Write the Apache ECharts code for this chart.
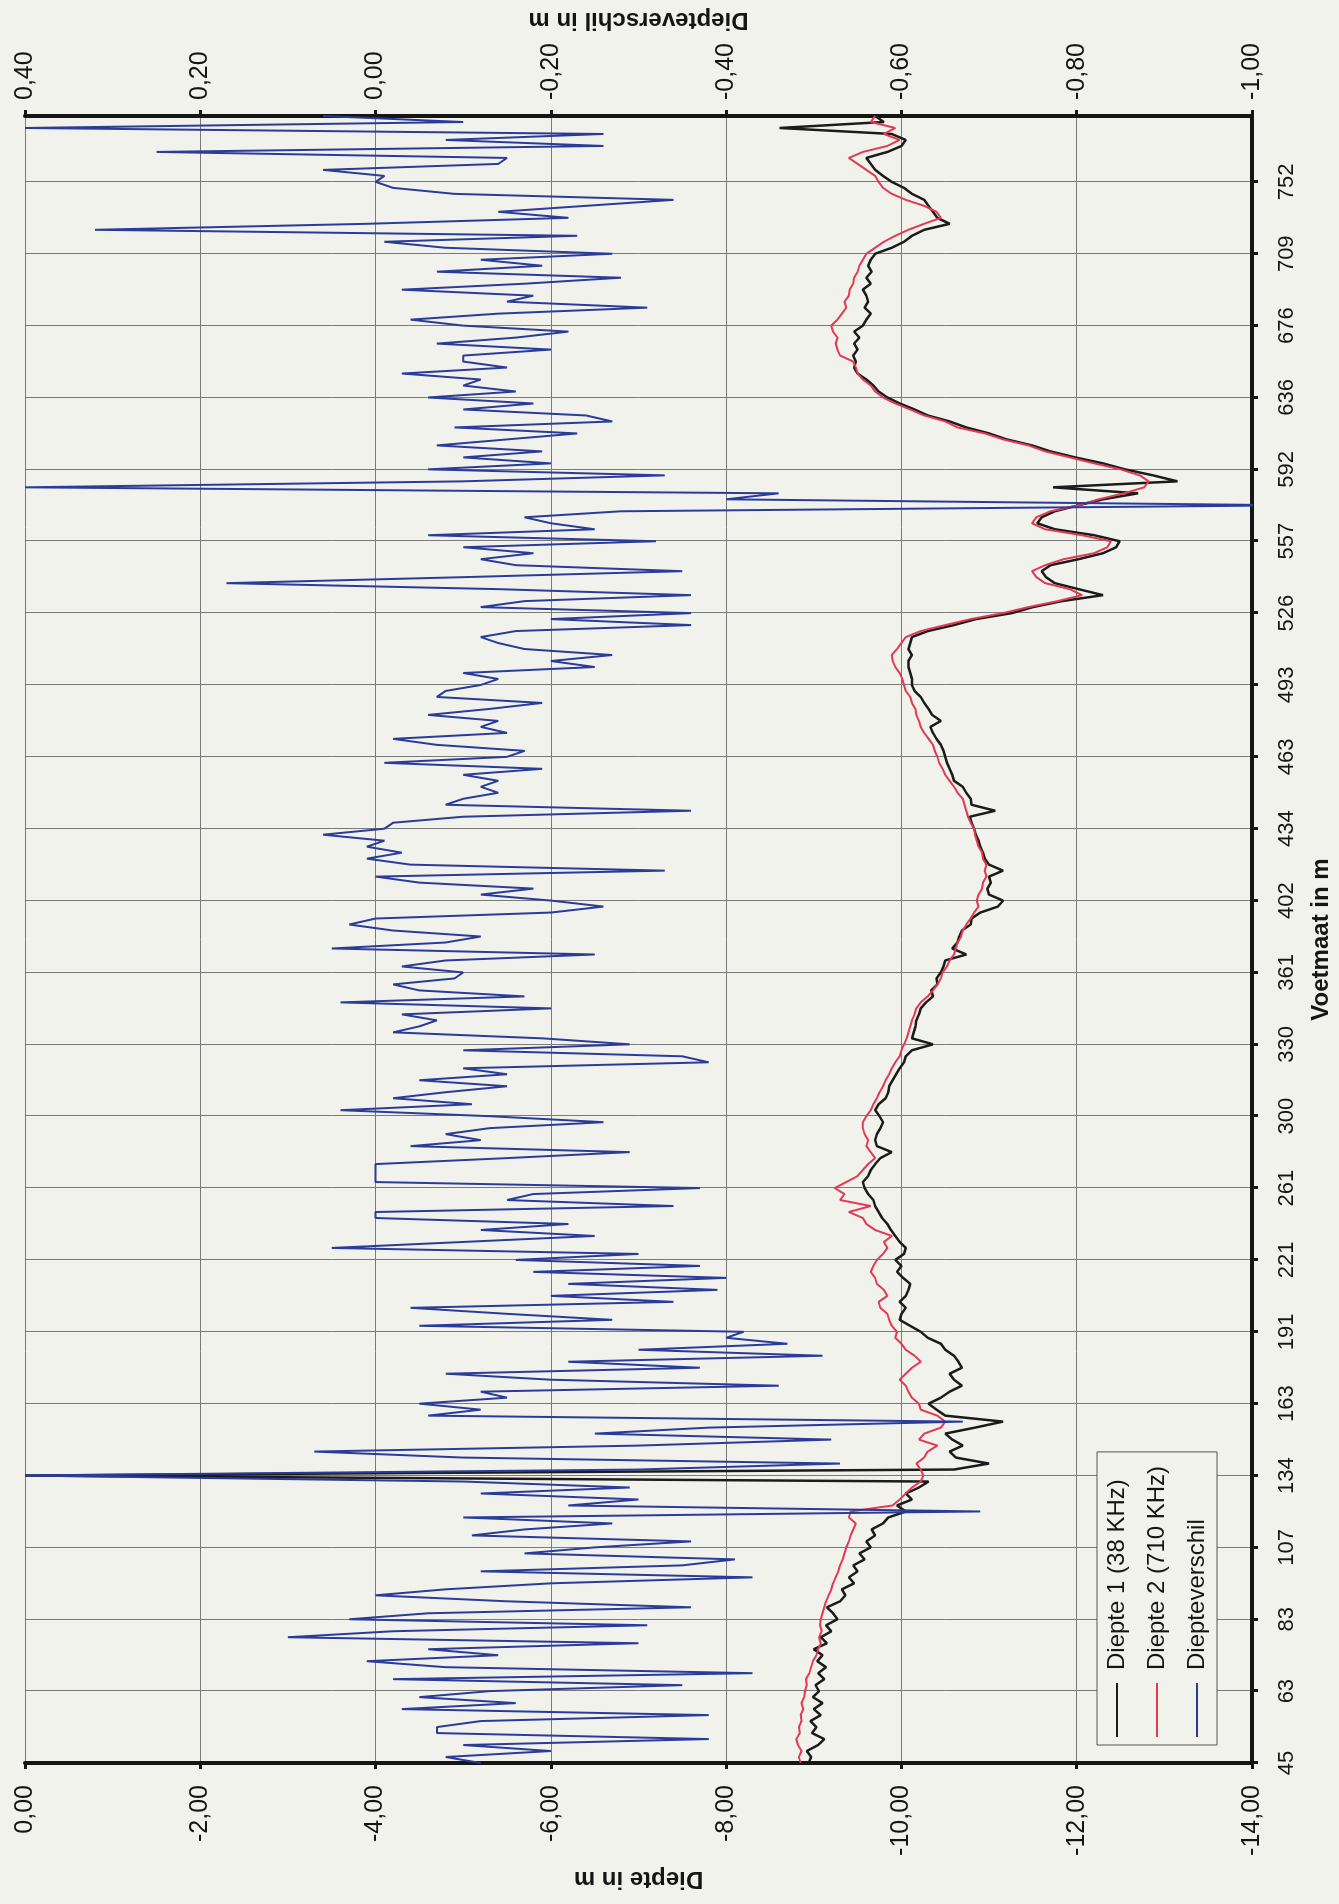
<!DOCTYPE html>
<html>
<head>
<meta charset="utf-8">
<script src="https://cdn.jsdelivr.net/npm/echarts@6/dist/echarts.min.js"></script>
<style>
  html, body { margin: 0; padding: 0; overflow: hidden; background: #f2f2ed; }
  body { width: 1339px; height: 1904px; position: relative; }
  /* chart is drawn landscape and turned a quarter to the left, like the scan */
  #chart {
    position: absolute; left: 0; top: 0;
    width: 1904px; height: 1339px;
    transform-origin: 0 0;
    transform: translateY(1904px) rotate(-90deg);
  }
</style>
</head>
<body>
<div id="chart"></div>
<script>
// voetmaat labels, one every 12 samples
var tickLabels = ['45', '63', '83', '107', '134', '163', '191', '221', '261', '300', '330', '361',
  '402', '434', '463', '493', '526', '557', '592', '636', '676', '709', '752'];
var perTick = 12;

// Diepte 1 (38 KHz), m
var diepte1 = [
  -8.94, -8.97, -8.92, -9.05, -9.12, -8.98, -9.03, -8.96, -9.08, -9.00, -9.10, -8.99,
  -9.06, -9.02, -9.12, -9.05, -9.14, -9.04, -9.10, -9.00, -9.15, -9.08, -9.20, -9.14,
  -9.27, -9.22, -9.15, -9.30, -9.36, -9.32, -9.46, -9.40, -9.50, -9.45, -9.58, -9.52,
  -9.65, -9.60, -9.70, -9.66, -9.79, -9.85, -10.05, -9.95, -10.12, -10.05, -10.20, -10.31,
  0.00, -10.60, -11.00, -10.62, -10.55, -10.70, -10.58, -10.50, -10.84, -11.16, -10.50, -10.40,
  -10.31, -10.45, -10.55, -10.69, -10.60, -10.55, -10.69, -10.65, -10.60, -10.50, -10.45, -10.30,
  -10.22, -10.10, -9.98, -10.00, -10.05, -9.98, -10.05, -10.08, -10.10, -10.02, -9.95, -10.00,
  -9.93, -10.03, -10.05, -9.98, -9.93, -9.88, -9.84, -9.78, -9.74, -9.70, -9.68, -9.62,
  -9.58, -9.56, -9.62, -9.65, -9.70, -9.76, -9.89, -9.72, -9.70, -9.72, -9.76, -9.79,
  -9.75, -9.70, -9.74, -9.82, -9.85, -9.86, -9.90, -9.94, -9.98, -10.03, -10.05, -10.12,
  -10.36, -10.12, -10.14, -10.16, -10.17, -10.20, -10.22, -10.28, -10.36, -10.34, -10.41, -10.40,
  -10.45, -10.48, -10.50, -10.74, -10.58, -10.64, -10.66, -10.69, -10.79, -10.80, -10.90, -11.10,
  -11.16, -11.00, -10.98, -11.02, -11.00, -11.16, -11.00, -10.95, -10.93, -10.90, -10.88, -10.85,
  -10.83, -10.80, -10.78, -11.07, -10.80, -10.79, -10.74, -10.70, -10.60, -10.58, -10.55, -10.52,
  -10.50, -10.48, -10.45, -10.40, -10.36, -10.33, -10.45, -10.35, -10.31, -10.26, -10.22, -10.15,
  -10.12, -10.12, -10.10, -10.08, -10.08, -10.12, -10.08, -10.10, -10.12, -10.30, -10.60, -10.85,
  -11.26, -11.50, -11.83, -12.30, -12.02, -11.75, -11.65, -11.60, -11.70, -12.02, -12.30, -12.45,
  -12.49, -12.20, -11.75, -11.55, -11.60, -11.75, -12.02, -12.30, -12.70, -11.73, -13.15, -12.87,
  -12.55, -12.30, -11.98, -11.70, -11.49, -11.20, -11.00, -10.74, -10.55, -10.30, -10.15, -9.98,
  -9.84, -9.74, -9.68, -9.60, -9.50, -9.46, -9.48, -9.45, -9.50, -9.46, -9.52, -9.46,
  -9.56, -9.60, -9.65, -9.58, -9.62, -9.60, -9.56, -9.65, -9.60, -9.66, -9.62, -9.65,
  -9.70, -9.89, -10.03, -10.12, -10.26, -10.55, -10.41, -10.36, -10.31, -10.26, -10.12, -10.03,
  -9.89, -9.79, -9.70, -9.65, -9.60, -9.84, -10.00, -10.05, -9.89, -8.61, -9.80, -9.70
];

// Diepte 2 (710 KHz), m
var diepte2 = [
  -8.85, -8.83, -8.86, -8.82, -8.80, -8.84, -8.83, -8.86, -8.85, -8.88, -8.86, -8.89,
  -8.90, -8.92, -8.91, -8.95, -8.97, -8.99, -9.03, -9.05, -9.08, -9.06, -9.09, -9.07,
  -9.08, -9.10, -9.12, -9.14, -9.17, -9.20, -9.22, -9.25, -9.28, -9.30, -9.33, -9.35,
  -9.37, -9.40, -9.42, -9.45, -9.48, -9.40, -9.42, -9.90, -9.98, -10.05, -10.12, -10.22,
  -10.25, -10.22, -10.17, -10.26, -10.30, -10.41, -10.20, -10.26, -10.45, -10.50, -10.41, -10.22,
  -10.20, -10.12, -10.08, -10.05, -9.98, -10.05, -10.12, -10.22, -10.15, -10.05, -10.00, -9.93,
  -9.95, -9.89, -9.86, -9.84, -9.76, -9.74, -9.84, -9.80, -9.72, -9.70, -9.65, -9.68,
  -9.72, -9.79, -9.84, -9.80, -9.89, -9.70, -9.60, -9.56, -9.40, -9.65, -9.30, -9.35,
  -9.24, -9.37, -9.50, -9.56, -9.62, -9.70, -9.65, -9.60, -9.62, -9.58, -9.56, -9.56,
  -9.60, -9.65, -9.68, -9.72, -9.75, -9.79, -9.82, -9.86, -9.89, -9.93, -9.98, -10.00,
  -10.03, -10.06, -10.08, -10.10, -10.12, -10.15, -10.17, -10.22, -10.30, -10.36, -10.41, -10.45,
  -10.47, -10.52, -10.55, -10.60, -10.62, -10.64, -10.68, -10.70, -10.74, -10.79, -10.83, -10.88,
  -10.86, -10.88, -10.92, -10.93, -10.97, -10.95, -10.97, -10.93, -10.92, -10.88, -10.86, -10.84,
  -10.83, -10.79, -10.76, -10.74, -10.72, -10.70, -10.64, -10.60, -10.55, -10.50, -10.47, -10.43,
  -10.41, -10.38, -10.36, -10.31, -10.26, -10.22, -10.20, -10.17, -10.16, -10.12, -10.10, -10.05,
  -10.03, -10.01, -9.98, -9.93, -9.90, -9.89, -9.95, -10.00, -10.05, -10.22, -10.50, -10.79,
  -11.16, -11.45, -11.78, -12.06, -11.92, -11.64, -11.54, -11.49, -11.64, -11.85, -12.20, -12.35,
  -12.39, -12.06, -11.64, -11.49, -11.54, -11.70, -12.02, -12.25, -12.54, -12.77, -12.82, -12.72,
  -12.50, -12.20, -11.92, -11.64, -11.45, -11.16, -10.95, -10.64, -10.50, -10.26, -10.10, -9.93,
  -9.79, -9.70, -9.65, -9.56, -9.50, -9.48, -9.45, -9.30, -9.27, -9.25, -9.27, -9.22,
  -9.20, -9.27, -9.32, -9.37, -9.35, -9.40, -9.41, -9.45, -9.46, -9.50, -9.52, -9.56,
  -9.60, -9.70, -9.80, -9.93, -10.08, -10.26, -10.45, -10.40, -10.26, -10.05, -9.89, -9.79,
  -9.74, -9.70, -9.60, -9.50, -9.40, -9.56, -9.84, -9.98, -9.80, -9.93, -9.65, -9.70
];

// Diepteverschil, m (right axis)
var verschil = [
  -0.12, -0.08, -0.20, -0.10, -0.38, -0.07, -0.07, -0.12, -0.38, -0.03, -0.16, -0.05,
  -0.13, -0.35, -0.02, -0.43, -0.08, 0.01, -0.14, -0.06, -0.30, 0.10, -0.02, -0.31,
  0.03, -0.06, -0.36, -0.15, 0.00, -0.08, -0.20, -0.43, -0.12, -0.35, -0.41, -0.17,
  -0.25, -0.36, -0.11, -0.17, -0.27, -0.10, -0.69, -0.22, -0.30, -0.12, -0.29, -0.10,
  0.40, -0.30, -0.53, -0.10, 0.07, -0.30, -0.52, -0.25, -0.38, -0.67, -0.06, -0.12,
  -0.05, -0.15, -0.12, -0.46, -0.20, -0.08, -0.37, -0.22, -0.51, -0.30, -0.47, -0.40,
  -0.42, -0.05, -0.27, -0.15, -0.04, -0.34, -0.20, -0.39, -0.22, -0.40, -0.18, -0.37,
  -0.16, -0.30, 0.05, -0.10, -0.25, -0.12, -0.22, 0.00, 0.00, -0.34, -0.15, -0.18,
  -0.37, 0.00, 0.00, 0.00, 0.00, -0.15, -0.29, -0.04, -0.12, -0.08, -0.13, -0.26,
  -0.13, 0.04, -0.11, -0.02, -0.08, -0.15, -0.05, -0.15, -0.10, -0.38, -0.35, -0.10,
  -0.29, -0.19, -0.02, -0.05, -0.07, -0.03, -0.20, 0.04, -0.17, -0.05, -0.02, -0.09,
  -0.10, -0.03, -0.08, -0.25, 0.05, -0.08, -0.12, -0.02, 0.03, 0.00, -0.20, -0.26,
  -0.20, -0.12, -0.18, -0.05, 0.00, -0.33, -0.04, 0.01, -0.03, 0.01, -0.01, 0.06,
  -0.01, -0.02, -0.10, -0.36, -0.08, -0.10, -0.14, -0.12, -0.14, -0.10, -0.19, -0.01,
  -0.15, -0.17, -0.07, -0.02, -0.15, -0.12, -0.14, -0.06, -0.13, -0.19, -0.07, -0.08,
  -0.12, -0.14, -0.10, -0.25, -0.20, -0.27, -0.17, -0.14, -0.12, -0.16, -0.36, -0.20,
  -0.36, -0.12, -0.17, -0.36, -0.14, 0.17, -0.10, -0.35, -0.16, -0.12, -0.18, -0.10,
  -0.32, -0.06, -0.25, -0.20, -0.17, -0.28, -1.05, -0.40, -0.46, 0.40, -0.10, -0.33,
  -0.06, -0.20, -0.10, -0.19, -0.07, -0.15, -0.23, -0.09, -0.27, -0.24, -0.10, -0.18,
  -0.06, -0.16, -0.10, -0.12, -0.03, -0.15, -0.10, -0.10, -0.20, -0.07, -0.16, -0.22,
  -0.10, -0.04, -0.14, -0.31, -0.15, -0.18, -0.03, -0.17, -0.28, -0.07, -0.19, -0.12,
  -0.27, -0.08, -0.01, -0.23, 0.32, 0.01, -0.22, -0.14, -0.24, -0.34, -0.09, -0.02,
  0.00, -0.01, 0.06, -0.14, -0.15, 0.25, -0.26, -0.08, -0.26, 0.40, -0.10, 0.06
];

// one category per sample
var categories = diepte1.map(function (v, i) { return String(i); });

function komma(v) {
  if (Math.abs(v) < 1e-9) v = 0;
  return v.toFixed(2).replace('.', ',');
}

var FONT = '"Liberation Sans", Arial, sans-serif';
var INK = '#151515';
var GRID = '#7a7a7a';

var myChart = echarts.init(document.getElementById('chart'), null, { renderer: 'canvas' });
var option = {
  animation: false,
  backgroundColor: '#f2f2ed',
  textStyle: { fontFamily: FONT },
  grid: { left: 141, right: 113, top: 25, bottom: 87 },
  legend: {
    orient: 'vertical',
    left: 159,
    top: 1097,
    padding: [8, 14, 8, 8],
    itemGap: 16,
    itemWidth: 54,
    itemHeight: 2,
    icon: 'rect',
    backgroundColor: '#f2f2ed',
    borderColor: '#555',
    borderWidth: 1,
    borderRadius: 0,
    textStyle: { color: INK, fontSize: 24, fontFamily: FONT, padding: [0, 0, 0, 8] },
    data: ['Diepte 1 (38 KHz)', 'Diepte 2 (710 KHz)', 'Diepteverschil']
  },
  xAxis: {
    type: 'category',
    data: categories,
    boundaryGap: false,
    name: 'Voetmaat in m',
    nameLocation: 'middle',
    nameGap: 57,
    nameTextStyle: { color: INK, fontSize: 24, fontWeight: 'bold', fontFamily: FONT },
    axisLine: { onZero: false, lineStyle: { color: INK, width: 4 } },
    axisTick: { interval: perTick - 1, length: 6, lineStyle: { color: INK, width: 3 } },
    axisLabel: {
      interval: perTick - 1,
      margin: 24,
      color: INK,
      fontSize: 22,
      fontFamily: FONT,
      formatter: function (v, idx) {
        return idx % perTick === 0 ? (tickLabels[idx / perTick] || '') : '';
      }
    },
    splitLine: { show: true, interval: perTick - 1, lineStyle: { color: GRID, width: 1 } }
  },
  yAxis: [
    {
      type: 'value',
      position: 'left',
      min: -14,
      max: 0,
      interval: 2,
      name: 'Diepte in m',
      nameLocation: 'middle',
      nameRotate: 90,
      nameGap: 70,
      nameTextStyle: { color: INK, fontSize: 24, fontWeight: 'bold', fontFamily: FONT },
      axisLine: { show: true, lineStyle: { color: INK, width: 4 } },
      axisTick: { show: true, length: 6, lineStyle: { color: INK, width: 3 } },
      axisLabel: { margin: 22, color: INK, fontSize: 25, fontFamily: FONT, formatter: komma },
      splitLine: { show: true, lineStyle: { color: GRID, width: 1 } }
    },
    {
      type: 'value',
      position: 'right',
      min: -1,
      max: 0.4,
      interval: 0.2,
      name: 'Diepteverschil in m',
      nameLocation: 'middle',
      nameRotate: 90,
      nameGap: 84,
      nameTextStyle: { color: INK, fontSize: 24, fontWeight: 'bold', fontFamily: FONT },
      axisLine: { show: true, lineStyle: { color: INK, width: 4 } },
      axisTick: { show: true, length: 6, lineStyle: { color: INK, width: 3 } },
      axisLabel: { margin: 16, color: INK, fontSize: 25, fontFamily: FONT, formatter: komma },
      splitLine: { show: false }
    }
  ],
  series: [
    {
      name: 'Diepte 1 (38 KHz)',
      type: 'line',
      yAxisIndex: 0,
      data: diepte1,
      showSymbol: false,
      color: '#1b1b1b',
      lineStyle: { width: 2.5 }
    },
    {
      name: 'Diepte 2 (710 KHz)',
      type: 'line',
      yAxisIndex: 0,
      data: diepte2,
      showSymbol: false,
      color: '#e23a52',
      lineStyle: { width: 2 }
    },
    {
      name: 'Diepteverschil',
      type: 'line',
      yAxisIndex: 1,
      data: verschil,
      showSymbol: false,
      color: '#2b3c98',
      lineStyle: { width: 2 }
    }
  ]
};

myChart.setOption(option);
</script>
</body>
</html>
